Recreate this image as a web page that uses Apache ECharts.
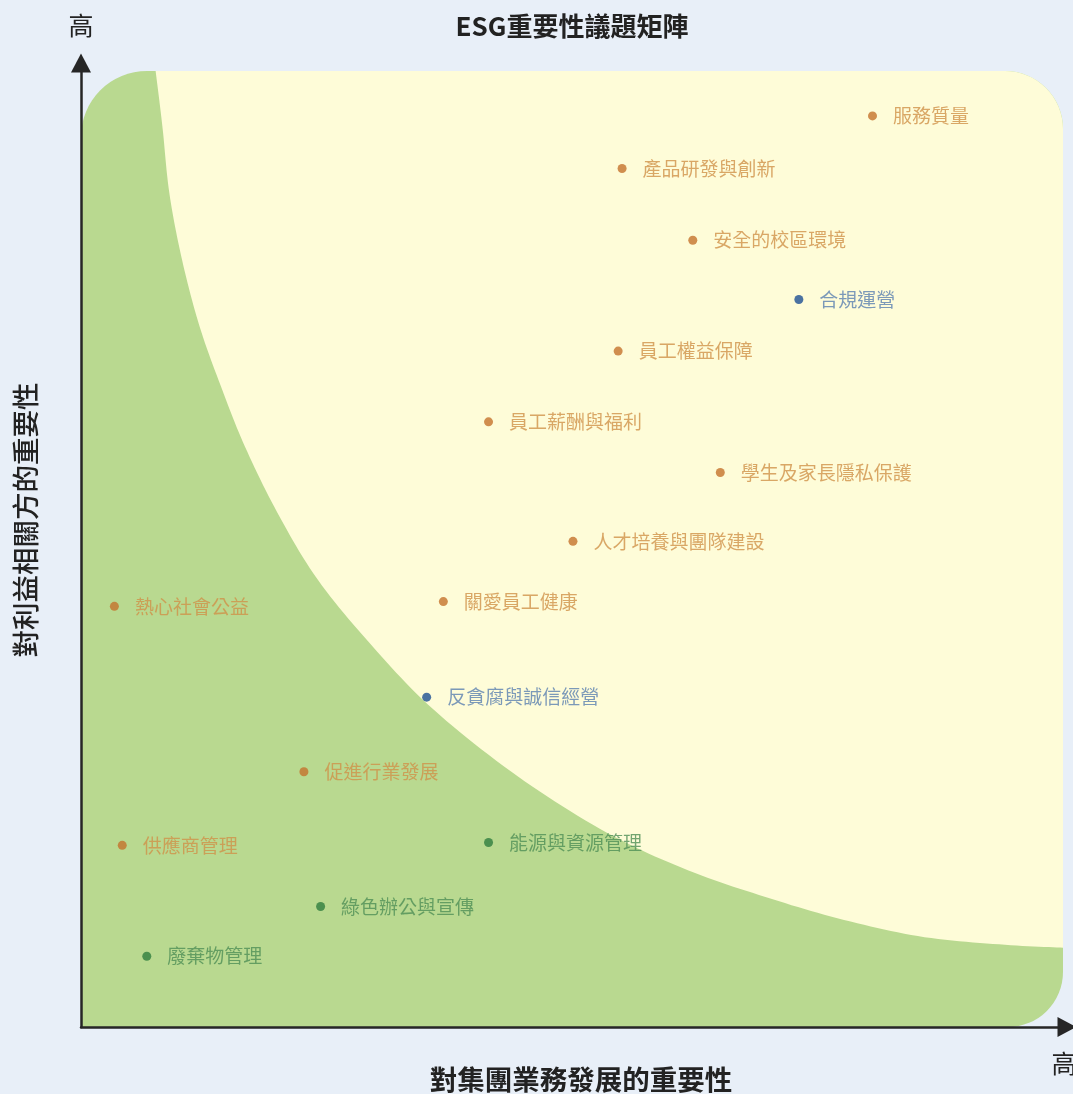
<!DOCTYPE html>
<html>
<head>
<meta charset="utf-8">
<title>ESG重要性議題矩陣</title>
<script src="https://cdn.jsdelivr.net/npm/echarts@6/dist/echarts.min.js"></script>
<style>
  html, body { margin: 0; padding: 0; background: #e8eff8; }
  #chart { width: 1073px; height: 1094px; }
</style>
</head>
<body>
<div id="chart"></div>
<script>
  // x: 對集團業務發展的重要性, y: 對利益相關方的重要性 (0-100)
  // 社會議題（橙色）
  const socialTopics = ['服務質量', '產品研發與創新', '安全的校區環境', '員工權益保障', '員工薪酬與福利',
    '學生及家長隱私保護', '人才培養與團隊建設', '關愛員工健康', '熱心社會公益', '促進行業發展', '供應商管理']
  const socialX = [80.6, 55.1, 62.3, 54.7, 41.5, 65.1, 50.1, 36.9, 3.4, 22.7, 4.2]
  const socialY = [95.3, 89.8, 82.3, 70.7, 63.3, 58.0, 50.8, 44.5, 44.0, 26.7, 19.0]

  // 管治議題（藍色）
  const govTopics = ['合規運營', '反貪腐與誠信經營']
  const govX = [73.1, 35.2]
  const govY = [76.1, 34.5]

  // 環境議題（綠色）
  const envTopics = ['能源與資源管理', '綠色辦公與宣傳', '廢棄物管理']
  const envX = [41.5, 24.4, 6.7]
  const envY = [19.3, 12.6, 7.4]

  // 高/低重要性分界曲線
  const curveX = [7.6, 8.3, 9.0, 10.3, 12.1, 14.4, 16.7, 20.0, 24.1, 29.7, 35.9, 44.5, 53.6, 61.8, 69.7, 77.7, 85.9, 94.1, 100]
  const curveY = [100, 94.1, 87.2, 80.2, 73.2, 66.6, 60.7, 53.8, 46.8, 39.8, 33.2, 26.2, 20.3, 16.4, 13.6, 11.2, 9.4, 8.6, 8.3]

  const FONT = "'Noto Sans CJK TC', 'Noto Sans CJK SC', sans-serif"

  function toPoints(names, xs, ys) {
    return names.map((n, i) => ({ name: n, value: [xs[i], ys[i]] }))
  }

  function scatterSeries(name, data, dotColor, textColor) {
    return {
      name: name,
      type: 'scatter',
      z: 5,
      symbolSize: 9,
      itemStyle: { color: dotColor },
      label: {
        show: true,
        position: 'right',
        distance: 16,
        formatter: '{b}',
        color: textColor,
        fontSize: 19,
        fontFamily: FONT
      },
      data: data
    }
  }

  // Catmull-Rom 平滑（像素座標）
  function spline(pts, steps) {
    const out = []
    for (let i = 0; i < pts.length - 1; i++) {
      const p0 = pts[Math.max(i - 1, 0)], p1 = pts[i], p2 = pts[i + 1], p3 = pts[Math.min(i + 2, pts.length - 1)]
      for (let s = 0; s < steps; s++) {
        const t = s / steps, t2 = t * t, t3 = t2 * t
        out.push([0, 1].map(k => 0.5 * (2 * p1[k] + (-p0[k] + p2[k]) * t +
          (2 * p0[k] - 5 * p1[k] + 4 * p2[k] - p3[k]) * t2 +
          (-p0[k] + 3 * p1[k] - 3 * p2[k] + p3[k]) * t3)))
      }
    }
    out.push(pts[pts.length - 1])
    return out
  }

  // 背景：綠色圓角區 + 黃色高重要性區
  function renderZones(params, api) {
    const tl = api.coord([0, 100])
    const br = api.coord([100, 0])
    const r = 58
    const pts = spline(curveX.map((x, i) => api.coord([x, curveY[i]])), 12)
    const cx = br[0] - r
    const cy = tl[1] + r
    for (let i = 0; i <= 16; i++) {
      const a = i / 16 * Math.PI / 2
      pts.push([cx + r * Math.cos(a), cy - r * Math.sin(a)])
    }
    return {
      type: 'group',
      children: [
        {
          type: 'rect',
          shape: { x: tl[0], y: tl[1], width: br[0] - tl[0], height: br[1] - tl[1], r: [66, r, 55, 0] },
          style: { fill: '#b9d990' }
        },
        {
          type: 'polygon',
          shape: { points: pts },
          style: { fill: '#fefcd8' }
        }
      ]
    }
  }

  const chart = echarts.init(document.getElementById('chart'))
  const axisLine = {
    show: true,
    lineStyle: { color: '#262626', width: 2.5 },
    symbol: ['none', 'triangle'],
    symbolSize: [20, 19]
  }
  const option = {
    backgroundColor: '#e8eff8',
    animation: false,
    grid: { left: 81, right: 10, top: 71, bottom: 67 },
    xAxis: {
      type: 'value', min: 0, max: 100, z: 10,
      axisLine: Object.assign({}, axisLine, { symbolOffset: [0, 4] }),
      axisTick: { show: false }, axisLabel: { show: false }, splitLine: { show: false }
    },
    yAxis: {
      type: 'value', min: 0, max: 100, z: 10,
      axisLine: Object.assign({}, axisLine, { symbolOffset: [0, 8] }),
      axisTick: { show: false }, axisLabel: { show: false }, splitLine: { show: false }
    },
    graphic: [
      { type: 'text', x: 572, y: 26, style: { text: 'ESG重要性議題矩陣', align: 'center', verticalAlign: 'middle', fill: '#222', font: 'bold 26px ' + FONT } },
      { type: 'text', x: 81, y: 25, style: { text: '高', align: 'center', verticalAlign: 'middle', fill: '#222', font: '25px ' + FONT } },
      { type: 'text', x: 1064, y: 1063, style: { text: '高', align: 'center', verticalAlign: 'middle', fill: '#222', font: '25px ' + FONT } },
      { type: 'text', x: 581, y: 1080, style: { text: '對集團業務發展的重要性', align: 'center', verticalAlign: 'middle', fill: '#222', font: 'bold 27.5px ' + FONT } },
      { type: 'text', x: 26, y: 520, rotation: Math.PI / 2, style: { text: '對利益相關方的重要性', align: 'center', verticalAlign: 'middle', fill: '#222', font: '500 27.5px ' + FONT } }
    ],
    series: [
      {
        type: 'custom',
        z: 0,
        silent: true,
        renderItem: renderZones,
        data: [[0, 0]]
      },
      scatterSeries('社會', toPoints(socialTopics, socialX, socialY), '#c4722c', '#cf9149'),
      scatterSeries('管治', toPoints(govTopics, govX, govY), '#1d4f93', '#5a7fb0'),
      scatterSeries('環境', toPoints(envTopics, envX, envY), '#2f7d3f', '#4f8e56')
    ]
  }
  chart.setOption(option)
</script>
</body>
</html>
